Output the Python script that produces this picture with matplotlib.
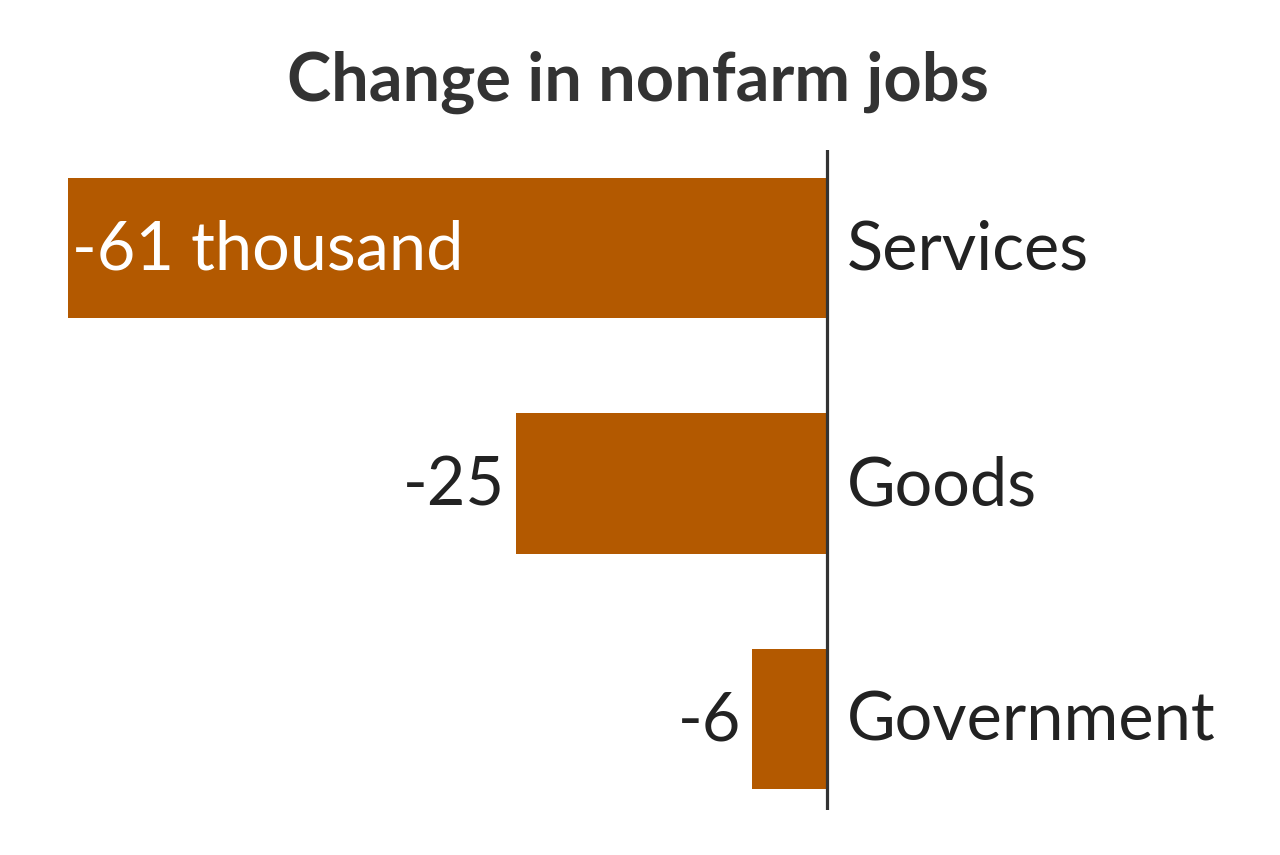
import matplotlib.pyplot as plt

categories = ['Services', 'Goods', 'Government']
values = [-61, -25, -6]
value_labels = ['-61 thousand', '-25', '-6']

bar_color = '#b35900'
text_color = '#222222'

plt.rcParams['font.family'] = ['Lato', 'DejaVu Sans']

fig = plt.figure(figsize=(12.8, 8.55), dpi=100)
ax = fig.add_axes([0, 45 / 855, 1, 660 / 855])

ypos = list(range(len(categories)))
ax.barh(ypos, values, height=0.595, color=bar_color)
ax.axvline(0, color='#333333', lw=2.3)

ax.set_xlim(-827 / 12.45, 453 / 12.45)
ax.set_ylim(2 + 91 / 235.5, -98 / 235.5)
ax.axis('off')

for i, (v, lab) in enumerate(zip(values, value_labels)):
    if i == 0:
        ax.annotate(lab, (v, i), xytext=(3, -2), textcoords='offset points',
                    ha='left', va='center', color='white', fontsize=48)
    else:
        ax.annotate(lab, (v, i), xytext=(-8, -2), textcoords='offset points',
                    ha='right', va='center', color=text_color, fontsize=48)
    ax.annotate(categories[i], (0, i), xytext=(14, -2), textcoords='offset points',
                ha='left', va='center', color=text_color, fontsize=48)

fig.text(0.498, 1 - 82 / 855, 'Change in nonfarm jobs', ha='center', va='center',
         fontsize=48, fontweight='bold', color='#333333')

fig.savefig('out.png', dpi=100)
